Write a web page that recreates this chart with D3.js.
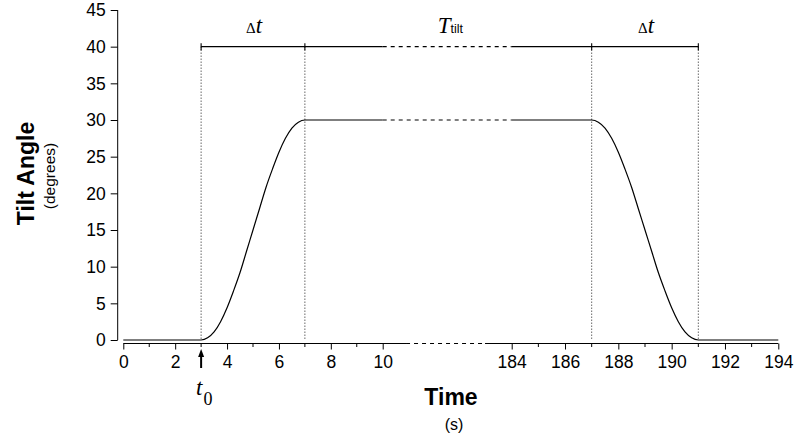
<!DOCTYPE html>
<html>
<head>
<meta charset="utf-8">
<script src="https://cdn.jsdelivr.net/npm/d3@7"></script>
<style>
  html, body { margin: 0; padding: 0; background: #fff; }
  svg { display: block; }
  text { fill: #000; }
</style>
</head>
<body>
<svg id="chart" width="796" height="440"></svg>
<script>
// ---- data ----
const yTicks = [0, 5, 10, 15, 20, 25, 30, 35, 40, 45];
const xTicksLeft = [0, 2, 4, 6, 8, 10];
const xMinorLeft = [1, 3, 5, 7, 9];
const xTicksRight = [184, 186, 188, 190, 192, 194];
const xMinorRight = [185, 187, 189, 191, 193];

// rising part (first segment)
const riseTimes  = [0, 3, 3.25, 3.5, 3.75, 4, 4.25, 4.5, 4.75, 5, 5.25, 5.5, 5.75, 6, 6.25, 6.5, 6.75, 7, 10];
const riseAngles = [0, 0, 0.3, 1.1, 2.5, 4.4, 6.7, 9.2, 12.1, 15, 17.9, 20.8, 23.3, 25.6, 27.5, 28.9, 29.7, 30, 30];
// falling part (second segment)
const fallTimes  = [184, 187, 187.25, 187.5, 187.75, 188, 188.25, 188.5, 188.75, 189, 189.25, 189.5, 189.75, 190, 190.25, 190.5, 190.75, 191, 194];
const fallAngles = [30, 30, 29.7, 28.9, 27.5, 25.6, 23.3, 20.8, 17.9, 15, 12.1, 9.2, 6.7, 4.4, 2.5, 1.1, 0.3, 0, 0];

const plateauAngle = 30;
const markerAngle = 40;
const t0 = 3;
const dtLeft = [3, 7];
const dtRight = [187, 191];
const leftEnd = 10;       // last time drawn in the left panel
const rightStart = 184;   // first time drawn in the right panel
const axisLeftEnd = 10.9;
const axisRightStart = 183;

// ---- scales ----
const svg = d3.select("#chart");
const y = d3.scaleLinear().domain([0, 45]).range([340, 10]);
const xL = d3.scaleLinear().domain([0, 10]).range([123.3, 382.7]);
const xR = d3.scaleLinear().domain([184, 194]).range([511.7, 778.3]);
const sans = "'Liberation Sans', Arial, Helvetica, sans-serif";
const serif = "'Liberation Serif', 'Times New Roman', serif";

// ---- y axis ----
const yAxisG = svg.append("g").attr("transform", "translate(117.7,0)")
  .call(d3.axisLeft(y).tickValues(yTicks).tickSize(7).tickPadding(5).tickSizeOuter(0));
yAxisG.select(".domain").attr("stroke", "#000").attr("d", `M0,${y(45)}V${y(0)}`);
yAxisG.selectAll(".tick line").attr("stroke", "#000");
yAxisG.selectAll(".tick text").style("font-family", sans).style("font-size", "17.5px").attr("dy", "0.34em");

// ---- x axis (broken) ----
const xAxisY = 343.5;
function drawXAxis(scale, ticks, minors, d0, d1) {
  const g = svg.append("g").attr("transform", `translate(0,${xAxisY})`)
    .call(d3.axisBottom(scale).tickValues(ticks).tickSize(6).tickPadding(6).tickSizeOuter(0));
  g.select(".domain").attr("stroke", "#000").attr("d", `M${scale(d0)},0H${scale(d1)}`);
  g.selectAll(".tick line").attr("stroke", "#000");
  g.selectAll(".tick text").style("font-family", sans).style("font-size", "17.5px").attr("dy", "0.71em");
  g.selectAll(".minor").data(minors).join("line")
    .attr("x1", d => scale(d)).attr("x2", d => scale(d))
    .attr("y1", 0).attr("y2", 3.5).attr("stroke", "#000");
}
drawXAxis(xL, xTicksLeft, xMinorLeft, 0, axisLeftEnd);
drawXAxis(xR, xTicksRight, xMinorRight, axisRightStart, 194);
svg.append("line")
  .attr("x1", xL(axisLeftEnd)).attr("x2", xR(axisRightStart))
  .attr("y1", xAxisY).attr("y2", xAxisY)
  .attr("stroke", "#000").attr("stroke-dasharray", "4,4");

// ---- vertical dotted guides ----
[[xL, dtLeft[0]], [xL, dtLeft[1]], [xR, dtRight[0]], [xR, dtRight[1]]].forEach(([s, t]) => {
  svg.append("line")
    .attr("x1", s(t)).attr("x2", s(t))
    .attr("y1", y(markerAngle)).attr("y2", y(0))
    .attr("stroke", "#000").attr("stroke-width", 0.9).attr("stroke-dasharray", "1,2");
});

// ---- data curve ----
const lineL = d3.line().x(d => xL(d[0])).y(d => y(d[1])).curve(d3.curveMonotoneX);
const lineR = d3.line().x(d => xR(d[0])).y(d => y(d[1])).curve(d3.curveMonotoneX);
svg.append("path").datum(riseTimes.map((t, i) => [t, riseAngles[i]]))
  .attr("d", lineL).attr("fill", "none").attr("stroke", "#000").attr("stroke-width", 1.2);
svg.append("path").datum(fallTimes.map((t, i) => [t, fallAngles[i]]))
  .attr("d", lineR).attr("fill", "none").attr("stroke", "#000").attr("stroke-width", 1.2);
svg.append("line")
  .attr("x1", xL(leftEnd)).attr("x2", xR(rightStart))
  .attr("y1", y(plateauAngle)).attr("y2", y(plateauAngle))
  .attr("stroke", "#000").attr("stroke-width", 1.2).attr("stroke-dasharray", "4,4");

// ---- top interval marker ----
const my = y(markerAngle);
svg.append("line").attr("x1", xL(dtLeft[0])).attr("x2", xL(leftEnd))
  .attr("y1", my).attr("y2", my).attr("stroke", "#000").attr("stroke-width", 1.1);
svg.append("line").attr("x1", xL(leftEnd)).attr("x2", xR(rightStart))
  .attr("y1", my).attr("y2", my).attr("stroke", "#000").attr("stroke-width", 1.1)
  .attr("stroke-dasharray", "4,4");
svg.append("line").attr("x1", xR(rightStart)).attr("x2", xR(dtRight[1]))
  .attr("y1", my).attr("y2", my).attr("stroke", "#000").attr("stroke-width", 1.1);
[xL(dtLeft[0]), xL(dtLeft[1]), xR(dtRight[0]), xR(dtRight[1])].forEach(px => {
  svg.append("line").attr("x1", px).attr("x2", px)
    .attr("y1", my - 3.5).attr("y2", my + 3.5).attr("stroke", "#000").attr("stroke-width", 1.1);
});

// Δt labels
function deltaT(cx) {
  const t = svg.append("text").attr("x", cx).attr("y", 33).attr("text-anchor", "middle");
  t.append("tspan").text("Δ").style("font-family", serif).style("font-size", "15px");
  t.append("tspan").text("t").style("font-family", serif).style("font-style", "italic").style("font-size", "23px");
}
deltaT((xL(dtLeft[0]) + xL(dtLeft[1])) / 2 + 1);
deltaT((xR(dtRight[0]) + xR(dtRight[1])) / 2 + 1);

// T_tilt label
const tt = svg.append("text").attr("x", (xL(dtLeft[1]) + xR(dtRight[0])) / 2 + 2).attr("y", 33).attr("text-anchor", "middle");
tt.append("tspan").text("T").style("font-family", serif).style("font-style", "italic").style("font-size", "23px");
tt.append("tspan").text("tilt").style("font-family", sans).style("font-size", "12.5px");

// ---- t0 arrow and label ----
const ax = xL(t0);
svg.append("line").attr("x1", ax).attr("x2", ax).attr("y1", 355).attr("y2", 368)
  .attr("stroke", "#000").attr("stroke-width", 2);
svg.append("path").attr("d", `M${ax},349L${ax - 3},357L${ax + 3},357Z`).attr("fill", "#000");
const t0l = svg.append("text").attr("x", 196).attr("y", 395);
t0l.append("tspan").text("t").style("font-family", serif).style("font-style", "italic").style("font-size", "23px");
t0l.append("tspan").text("0").attr("dy", 10).attr("dx", 1).style("font-family", serif).style("font-size", "18px");

// ---- axis titles ----
svg.append("text").attr("transform", "translate(34,173.5) rotate(-90)").attr("text-anchor", "middle")
  .style("font-family", sans).style("font-weight", "bold").style("font-size", "23px").text("Tilt Angle");
svg.append("text").attr("transform", "translate(55,176) rotate(-90)").attr("text-anchor", "middle")
  .style("font-family", sans).style("font-size", "15.5px").text("(degrees)");
svg.append("text").attr("x", 451).attr("y", 405).attr("text-anchor", "middle")
  .style("font-family", sans).style("font-weight", "bold").style("font-size", "23px").text("Time");
svg.append("text").attr("x", 454).attr("y", 430).attr("text-anchor", "middle")
  .style("font-family", sans).style("font-size", "16px").text("(s)");
</script>
</body>
</html>
